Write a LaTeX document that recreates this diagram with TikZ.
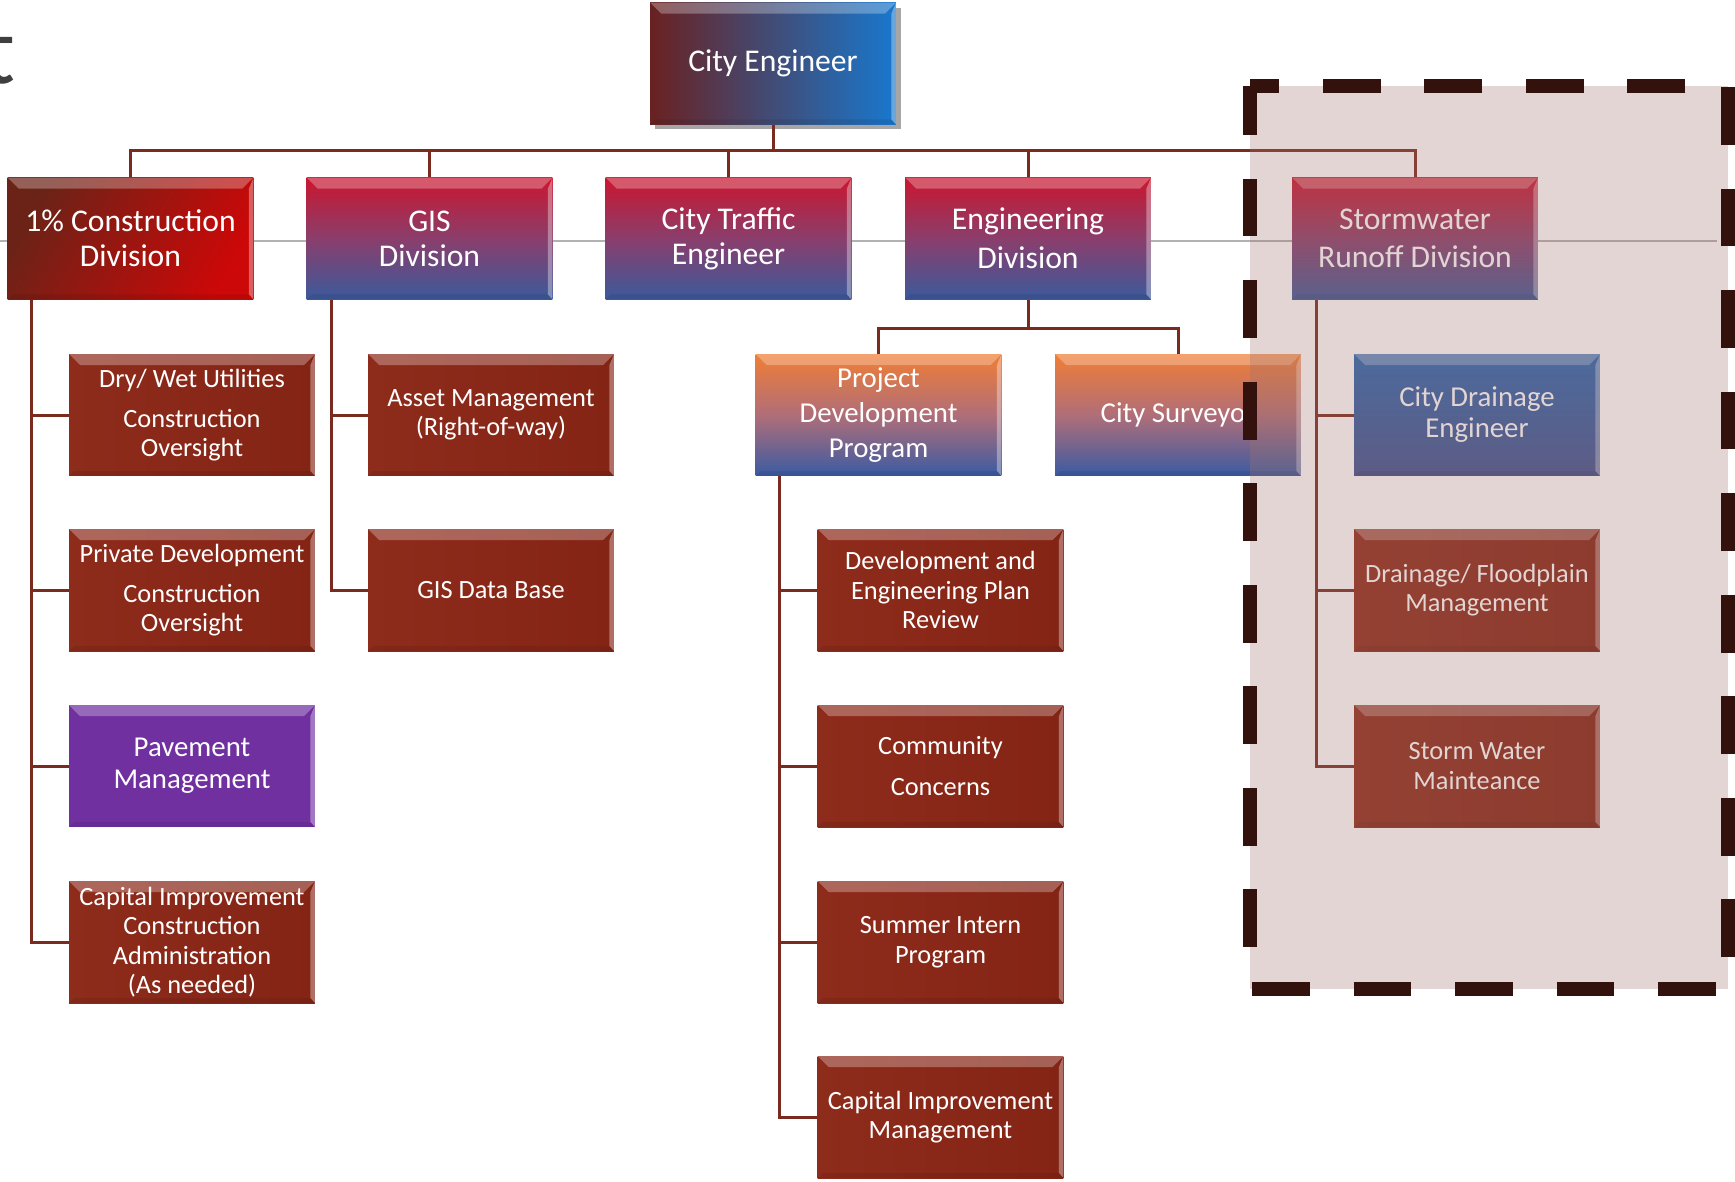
\documentclass[tikz,border=0pt]{standalone}
\usepackage{fontspec}
\setmainfont{Carlito}
\usetikzlibrary{shadows}

\definecolor{linkred}{HTML}{7B2A1F}
\definecolor{leafL}{HTML}{8E2C1C}
\definecolor{leafR}{HTML}{842414}
\definecolor{zonefill}{RGB}{162,115,108}
\definecolor{zonedash}{HTML}{33110C}
\definecolor{titlegray}{HTML}{3F3F3F}

\tikzset{
	bevel/.style={path picture={
		\fill[white,opacity=.28] (path picture bounding box.north west) -- (path picture bounding box.north east)
			-- ([xshift=-.22cm,yshift=-.22cm]path picture bounding box.north east)
			-- ([xshift=.22cm,yshift=-.22cm]path picture bounding box.north west) -- cycle;
		\fill[white,opacity=.35] (path picture bounding box.north east) -- (path picture bounding box.south east)
			-- ([xshift=-.09cm,yshift=.1cm]path picture bounding box.south east)
			-- ([xshift=-.09cm,yshift=-.22cm]path picture bounding box.north east) -- cycle;
		\fill[black,opacity=.08] (path picture bounding box.south west) -- (path picture bounding box.south east)
			-- ([xshift=-.09cm,yshift=.1cm]path picture bounding box.south east)
			-- ([xshift=.1cm,yshift=.1cm]path picture bounding box.south west) -- cycle;
	}},
	box/.style={rectangle, minimum width=4.92cm, minimum height=2.44cm, inner sep=1pt,
		align=center, text=white, bevel},
	chief/.style={box, left color=HTMLce1, right color=HTMLce2, font=\fontsize{18}{20}\selectfont,
		drop shadow={shadow xshift=.1cm, shadow yshift=-.1cm, fill=black, opacity=.35}},
	division/.style={box, top color=HTMLdv1, bottom color=HTMLdv2, middle color=HTMLdv3,
		font=\fontsize{18}{20}\selectfont},
	onepct/.style={box, left color=HTMLop1, right color=HTMLop2, shading angle=60,
		font=\fontsize{18}{20}\selectfont},
	program/.style={box, top color=HTMLpr1, bottom color=HTMLpr2, middle color=HTMLpr3,
		font=\fontsize{16.4}{20}\selectfont},
	engineer/.style={box, top color=HTMLen1, bottom color=HTMLen2,
		font=\fontsize{16.4}{17.6}\selectfont},
	pavement/.style={box, fill=HTMLpv, font=\fontsize{16.4}{18}\selectfont},
	leaf/.style={box, left color=leafL, right color=leafR, font=\fontsize{15}{16.8}\selectfont},
	link/.style={draw=linkred, line width=1.7pt},
}
\definecolor{HTMLce1}{HTML}{6A2121}
\definecolor{HTMLce2}{HTML}{1878CE}
\definecolor{HTMLdv1}{HTML}{CB162E}
\definecolor{HTMLdv2}{HTML}{3B5A9C}
\definecolor{HTMLdv3}{HTML}{8A3E6C}
\definecolor{HTMLop1}{HTML}{6B2317}
\definecolor{HTMLop2}{HTML}{CC0808}
\definecolor{HTMLpr1}{HTML}{F07E36}
\definecolor{HTMLpr2}{HTML}{3A5BA3}
\definecolor{HTMLpr3}{HTML}{B06E78}
\definecolor{HTMLen1}{HTML}{2767B2}
\definecolor{HTMLen2}{HTML}{3F5290}
\definecolor{HTMLpv}{HTML}{7030A0}

\begin{document}
\begin{tikzpicture}[x=0.02cm, y=-0.02cm]
	\useasboundingbox (0,0) rectangle (1735,1181);
	% title fragment
	\node[font=\fontsize{56}{56}\selectfont, text=titlegray, anchor=base east, inner sep=0pt] (ttl) at (16,83) {t};
	% thin grey guide line
	\draw[gray!60, line width=.8pt] (0,241) -- (1717,241);

	% City Engineer
	\node[chief] (ce) at (773,63.5) {City Engineer};

	% Divisions
	\node[onepct]   (d1) at (130.5,238.5) {1\% Construction\\Division};
	\node[division] (d2) at (429.5,238.5) {GIS\\Division};
	\node[division] (d3) at (728.5,238.5) {City Traffic\\Engineer};
	\node[division] (d4) at (1028,238.5) {Engineering\\[2pt]Division};
	\node[division] (d5) at (1415,238.5) {Stormwater\\[2pt]Runoff Division};

	% 1% Construction Division
	\node[leaf]     (a1) at (192,415) {Dry/ Wet Utilities\\[6pt]Construction\\Oversight};
	\node[leaf]     (a2) at (192,590) {Private Development\\[6pt]Construction\\Oversight};
	\node[pavement] (a3) at (192,766) {Pavement\\Management};
	\node[leaf]     (a4) at (192,942) {Capital Improvement\\Construction\\Administration\\(As needed)};

	% GIS Division
	\node[leaf] (g1) at (491,415) {Asset Management\\(Right-of-way)};
	\node[leaf] (g2) at (491,590) {GIS Data Base};

	% Engineering Division
	\node[program] (e1) at (878.5,415) {Project\\Development\\Program};
	\node[program] (e2) at (1178,415) {City Surveyor};
	\node[leaf] (p1) at (940.5,590) {Development and\\Engineering Plan\\Review};
	\node[leaf] (p2) at (940.5,766) {Community\\[6pt]Concerns};
	\node[leaf] (p3) at (940.5,942) {Summer Intern\\Program};
	\node[leaf] (p4) at (940.5,1117) {Capital Improvement\\Management};

	% Stormwater Runoff Division
	\node[engineer] (s1) at (1477,415) {City Drainage\\Engineer};
	\node[leaf] (s2) at (1477,590) {Drainage/ Floodplain\\Management};
	\node[leaf] (s3) at (1477,766) {Storm Water\\Mainteance};

	% connectors
	\coordinate (bus) at (0,150);
	\coordinate (sub) at (0,328);
	\draw[link] (ce.south) -- (ce.south |- bus);
	\draw[link] (d1.north) -- (d1.north |- bus) -- (d5.north |- bus) -- (d5.north);
	\foreach \n in {d2,d3,d4}
		\draw[link] (\n.north) -- (\n.north |- bus);
	\draw[link] (d4.south) -- (d4.south |- sub);
	\draw[link] (e1.north) -- (e1.north |- sub) -- (e2.north |- sub) -- (e2.north);

	\coordinate (t1) at ([xshift=.48cm]d1.south west);
	\draw[link] (t1) |- (a4.west);
	\foreach \n in {a1,a2,a3}
		\draw[link] (\n.west) -- (\n.west -| t1);
	\coordinate (t2) at ([xshift=.5cm]d2.south west);
	\draw[link] (t2) |- (g2.west);
	\draw[link] (g1.west) -- (g1.west -| t2);
	\coordinate (t3) at ([xshift=.48cm]e1.south west);
	\draw[link] (t3) |- (p4.west);
	\foreach \n in {p1,p2,p3}
		\draw[link] (\n.west) -- (\n.west -| t3);
	\coordinate (t4) at ([xshift=.5cm]d5.south west);
	\draw[link] (t4) |- (s3.west);
	\foreach \n in {s1,s2}
		\draw[link] (\n.west) -- (\n.west -| t4);

	% stormwater zone
	\fill[zonefill, opacity=.3] (1250,86) rectangle (1728,989);
	\draw[zonedash, line width=7.9pt, dash pattern=on 32.9pt off 24.9pt, dash phase=5.1pt]
		(1250,86) -- (1250,989) -- (1728,989) -- (1728,86) -- cycle;
\end{tikzpicture}
\end{document}
